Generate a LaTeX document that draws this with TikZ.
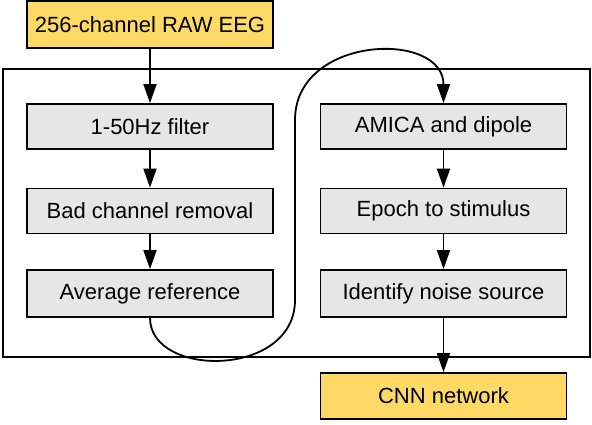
\documentclass[tikz,border=0pt]{standalone}
\usepackage{fontspec}
\setmainfont{Liberation Sans}
\usetikzlibrary{arrows.meta}
\definecolor{boxyellow}{RGB}{255,217,102}
\definecolor{boxgray}{RGB}{230,230,230}
\begin{document}
\begin{tikzpicture}[x=1pt,y=-1pt,
  box/.style={draw=black, line width=1.8pt, minimum width=246pt, minimum height=45pt, inner sep=0pt, font=\fontsize{22}{25}\selectfont},
  graybox/.style={box, fill=boxgray},
  yelbox/.style={box, fill=boxyellow},
  conn/.style={line width=1.8pt, -{Triangle[length=19pt,width=13pt]}}]
\useasboundingbox (0,0) rectangle (592,424);
\node[draw=black, line width=1.8pt, minimum width=587pt, minimum height=288pt, inner sep=0pt] (frame) at (296.5,213) {};
\node[yelbox, minimum height=47pt] (raw) at (150,24.5) {256-channel RAW EEG};
\node[graybox] (filt) at (150,126.5) {1-50Hz filter};
\node[graybox] (bad) at (150,211) {Bad channel removal};
\node[graybox, minimum height=47pt] (avg) at (150,293.5) {Average reference};
\node[graybox] (amica) at (443.5,126.5) {AMICA and dipole};
\node[graybox] (epoch) at (443.5,211) {Epoch to stimulus};
\node[graybox, minimum height=47pt] (noise) at (443.5,293.5) {Identify noise source};
\node[yelbox, minimum height=46pt] (cnn) at (443.5,396) {CNN network};
\draw[conn] (raw) -- (filt);
\draw[conn] (filt) -- (bad);
\draw[conn] (bad) -- (avg);
\draw[conn] (amica) -- (epoch);
\draw[conn] (epoch) -- (noise);
\draw[conn] (noise) -- (cnn);
\coordinate (c1) at (295,300);
\coordinate (c2) at (295,120);
\draw[conn] (avg.south) .. controls (150,378) and (295,378) .. (c1) -- (c2) .. controls (295,35) and (443.5,30) .. (amica.north);
\end{tikzpicture}
\end{document}
